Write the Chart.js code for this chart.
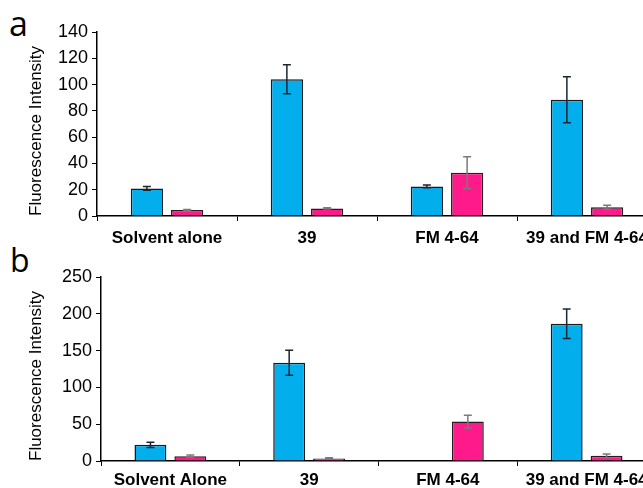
<!DOCTYPE html>
<html>
<head>
<meta charset="utf-8">
<script src="https://cdn.jsdelivr.net/npm/chart.js@4/dist/chart.umd.min.js"></script>
<style>
  html, body { margin: 0; padding: 0; background: #fff; }
  body { width: 643px; height: 488px; overflow: hidden; position: relative; }
  .panel { position: absolute; left: 0; }
  .letter { position: absolute; font-family: "Open Sans", "Noto Sans", sans-serif; color: #000; }
</style>
</head>
<body>
<div class="letter" style="left:9px; top:0px; font-size:34px;">a</div>
<div class="letter" style="left:10px; top:238px; font-size:32px;">b</div>
<canvas id="chartA" class="panel" width="700" height="244" style="top:0px;"></canvas>
<canvas id="chartB" class="panel" width="700" height="244" style="top:244px;"></canvas>
<script>
const categoriesA = ['Solvent alone', '39', 'FM 4-64', '39 and FM 4-64'];
const blueA = [21, 104, 22.5, 88.5];
const blueErrA = [1.5, 11, 1, 17.5];
const pinkA = [4.5, 5.8, 33, 6.6];
const pinkErrA = [0.5, 0.5, 12, 1.5];
const ticksA = [0, 20, 40, 60, 80, 100, 120, 140];

const categoriesB = ['Solvent Alone', '39', 'FM 4-64', '39 and FM 4-64'];
const blueB = [22, 133.5, 0, 186.5];
const blueErrB = [3.5, 17, 0, 20];
const pinkB = [6.5, 3.5, 53.5, 7];
const pinkErrB = [1.5, 1, 8.5, 2.5];
const ticksB = [0, 50, 100, 150, 200, 250];

const BLUE = '#02AEEC';
const PINK = '#FF1A8C';

// draws the error bars on top of each bar, using the chart's own y scale
const errorBars = {
  id: 'errorBars',
  afterDatasetsDraw(chart) {
    const ctx = chart.ctx;
    const y = chart.scales.y;
    chart.data.datasets.forEach((ds, i) => {
      const meta = chart.getDatasetMeta(i);
      meta.data.forEach((bar, j) => {
        const v = ds.data[j];
        const e = ds.errors[j];
        if (!v || !e) return;
        const top = y.getPixelForValue(v + e);
        const bot = y.getPixelForValue(v - e);
        ctx.save();
        ctx.strokeStyle = ds.errorColor;
        ctx.lineWidth = 1.5;
        ctx.beginPath();
        ctx.moveTo(bar.x, top);
        ctx.lineTo(bar.x, bot);
        ctx.moveTo(bar.x - 4, top);
        ctx.lineTo(bar.x + 4, top);
        ctx.moveTo(bar.x - 4, bot);
        ctx.lineTo(bar.x + 4, bot);
        ctx.stroke();
        ctx.restore();
      });
    });
  }
};

function makeChart(id, labels, blue, blueErr, pink, pinkErr, tickVals, box) {
  const ctx = document.getElementById(id).getContext('2d');
  const canvasW = 700, canvasH = 244;
  return new Chart(ctx, {
    type: 'bar',
    data: {
      labels: labels,
      datasets: [{
        data: blue,
        errors: blueErr,
        errorColor: '#1b2633',
        backgroundColor: BLUE,
        borderColor: '#1a1a1a',
        borderWidth: 1.5,
        categoryPercentage: 0.575,
        barPercentage: 0.8
      }, {
        data: pink,
        errors: pinkErr,
        errorColor: '#7a7a7a',
        backgroundColor: PINK,
        borderColor: '#2a1a22',
        borderWidth: 1.5,
        categoryPercentage: 0.575,
        barPercentage: 0.8
      }]
    },
    options: {
      responsive: false,
      animation: false,
      devicePixelRatio: 1,
      layout: {
        padding: { top: box.top, right: canvasW - box.right, bottom: 0, left: 0 }
      },
      plugins: {
        legend: { display: false },
        tooltip: { enabled: false }
      },
      scales: {
        x: {
          grid: { drawOnChartArea: false, drawTicks: true, tickLength: 5, color: '#000', offset: true },
          border: { color: '#000', width: 1.5 },
          ticks: {
            color: '#000',
            padding: box.labelPad,
            maxRotation: 0,
            autoSkip: false,
            font: { family: 'Liberation Sans, Arial, sans-serif', size: 17, weight: 'bold' }
          },
          afterFit: (s) => { s.height = canvasH - box.bottom; }
        },
        y: {
          min: tickVals[0],
          max: tickVals[tickVals.length - 1],
          afterBuildTicks: (s) => { s.ticks = tickVals.map(v => ({ value: v })); },
          grid: { drawOnChartArea: false, drawTicks: true, tickLength: 5, color: '#000' },
          border: { color: '#000', width: 1.5 },
          ticks: {
            color: '#000',
            padding: 4,
            font: { family: 'Liberation Sans, Arial, sans-serif', size: 18 }
          },
          title: {
            display: true,
            text: 'Fluorescence Intensity',
            align: 'start',
            color: '#000',
            padding: { top: 26, bottom: 0 },
            font: { family: 'Liberation Sans, Arial, sans-serif', size: 17 }
          },
          afterFit: (s) => { s.width = box.left; }
        }
      }
    },
    plugins: [errorBars]
  });
}

makeChart('chartA', categoriesA, blueA, blueErrA, pinkA, pinkErrA, ticksA,
  { top: 32, bottom: 216, left: 97, right: 657, labelPad: 7 });
makeChart('chartB', categoriesB, blueB, blueErrB, pinkB, pinkErrB, ticksB,
  { top: 33, bottom: 217, left: 101, right: 656, labelPad: 4 });
</script>
</body>
</html>
